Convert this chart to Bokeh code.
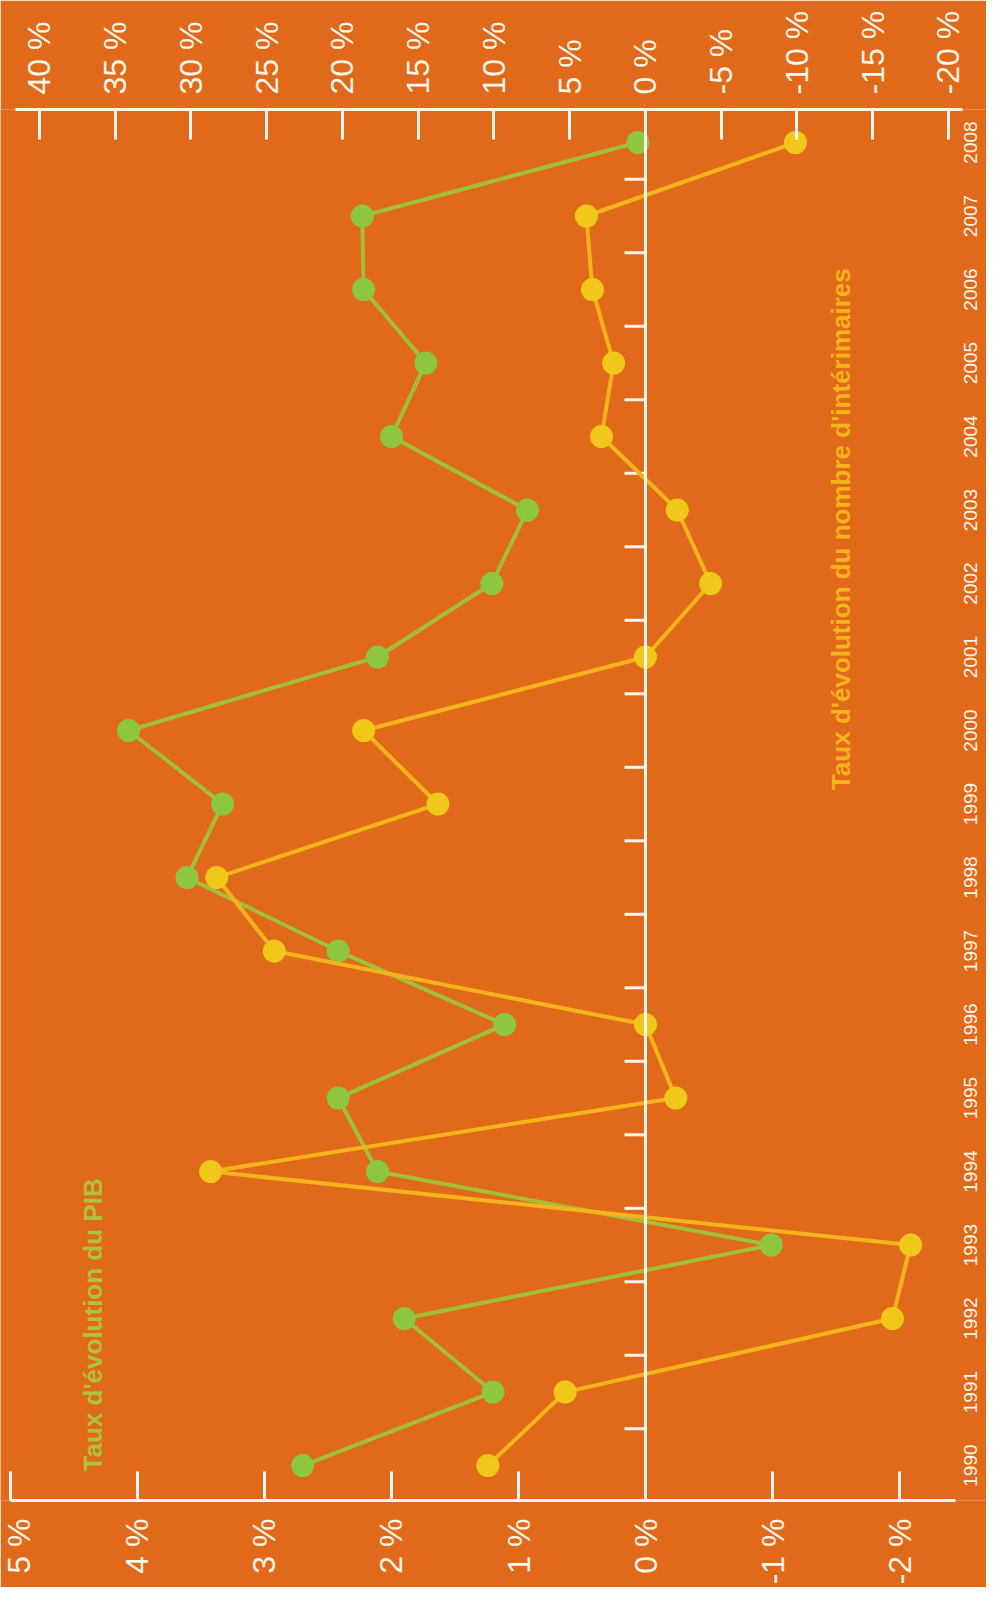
import numpy as np
from bokeh.plotting import figure
from bokeh.models import Range1d, LinearAxis, FixedTicker, PrintfTickFormatter, Span, Label
from bokeh.embed import file_html
from bokeh.resources import INLINE
from bokeh.core.properties import value

# ---- data ----
years = list(range(1990, 2009))
year_labels = [str(y) for y in years]
pib = [2.70, 1.20, 1.90, -0.99, 2.11, 2.42, 1.11, 2.42, 3.61, 3.33,
       4.07, 2.11, 1.21, 0.93, 2.00, 1.73, 2.22, 2.23, 0.06]
interim = [10.4, 5.3, -16.3, -17.5, 28.7, -2.0, 0.0, 24.5, 28.3, 13.7,
           18.6, 0.0, -4.3, -2.1, 2.9, 2.1, 3.5, 3.9, -9.9]
pib_ticks = [5, 4, 3, 2, 1, 0, -1, -2]
interim_ticks = [40, 35, 30, 25, 20, 15, 10, 5, 0, -5, -10, -15, -20]
boundaries = [y + 0.5 for y in years[:-1]]

label_pib = "Taux d'évolution du PIB"
label_interim = "Taux d'évolution du nombre d'intérimaires"

# ---- styles ----
BG = "#E06A1A"
WHITE = "#FFF6EC"
GREEN_LINE = "#A3BF3A"
GREEN_PT = "#8DC63F"
GREEN_TXT = "#AFC23C"
YEL_LINE = "#F6B41C"
YEL_PT = "#F0C81A"
YEL_TXT = "#F5B51A"
FONT = "Liberation Sans"

p = figure(width=986, height=1587, output_backend="svg", toolbar_location=None,
           x_range=Range1d(5.0787, -2.685), y_range=Range1d(1989.525, 2008.449),
           y_axis_location=None,
           min_border_left=0, min_border_right=0, min_border_top=109, min_border_bottom=86)
p.extra_x_ranges = {"interim": Range1d(42.57, -22.51)}
p.background_fill_color = BG
p.border_fill_color = BG
p.outline_line_color = None
p.xgrid.visible = False
p.ygrid.visible = False


def style_axis(ax, tick_in, standoff, size):
    ax.formatter = PrintfTickFormatter(format="%d %%")
    ax.major_label_orientation = np.pi / 2
    ax.major_tick_in = tick_in
    ax.major_tick_out = 0
    ax.minor_tick_in = 0
    ax.minor_tick_out = 0
    ax.axis_line_color = WHITE
    ax.axis_line_width = 3
    ax.major_tick_line_color = WHITE
    ax.major_tick_line_width = 3
    ax.minor_tick_line_color = None
    ax.major_label_text_color = WHITE
    ax.major_label_text_font = FONT
    ax.major_label_text_font_size = size
    ax.major_label_standoff = standoff


xa = p.xaxis[0]
xa.ticker = FixedTicker(ticks=pib_ticks)
xa.bounds = (-2.44, 5)
style_axis(xa, 29, 18, "32px")

ta = LinearAxis(x_range_name="interim", ticker=FixedTicker(ticks=interim_ticks), bounds=(-20.9, 41.6))
style_axis(ta, 30, 15, "32px")
p.add_layout(ta, "above")

# zero line and year boundary ticks on it
p.add_layout(Span(location=0, dimension="height", line_color=WHITE, line_width=3))
p.ray(x=[0] * len(boundaries), y=boundaries, length=21, length_units="screen",
      angle=np.pi, line_color=WHITE, line_width=3)

# series: GDP (green) on main range, temp workers (yellow) on extra range
p.line(x=pib, y=years, line_color=GREEN_LINE, line_width=4)
p.scatter(x=pib, y=years, size=23, fill_color=GREEN_PT, line_color=None)
p.line(x=interim, y=years, x_range_name="interim", line_color=YEL_LINE, line_width=4)
p.scatter(x=interim, y=years, x_range_name="interim", size=23, fill_color=YEL_PT, line_color=None)

# year labels (rotated, reading upward)
p.text(x=[-2.56] * len(years), y=years, text=year_labels, angle=np.pi / 2,
       text_font=value(FONT), text_font_size=value("19px"), text_color=WHITE,
       text_align="center", text_baseline="middle")

# series labels
p.add_layout(Label(x=4.354, y=1989.92, text=label_pib, angle=np.pi / 2,
                   text_align="left", text_baseline="middle", text_color=GREEN_TXT,
                   text_font=FONT, text_font_style="bold", text_font_size="26px"))
p.add_layout(Label(x=-1.543, y=1999.19, text=label_interim, angle=np.pi / 2,
                   text_align="left", text_baseline="middle", text_color=YEL_TXT,
                   text_font=FONT, text_font_style="bold", text_font_size="26px"))

open("out.html", "w").write(file_html(p, INLINE))
